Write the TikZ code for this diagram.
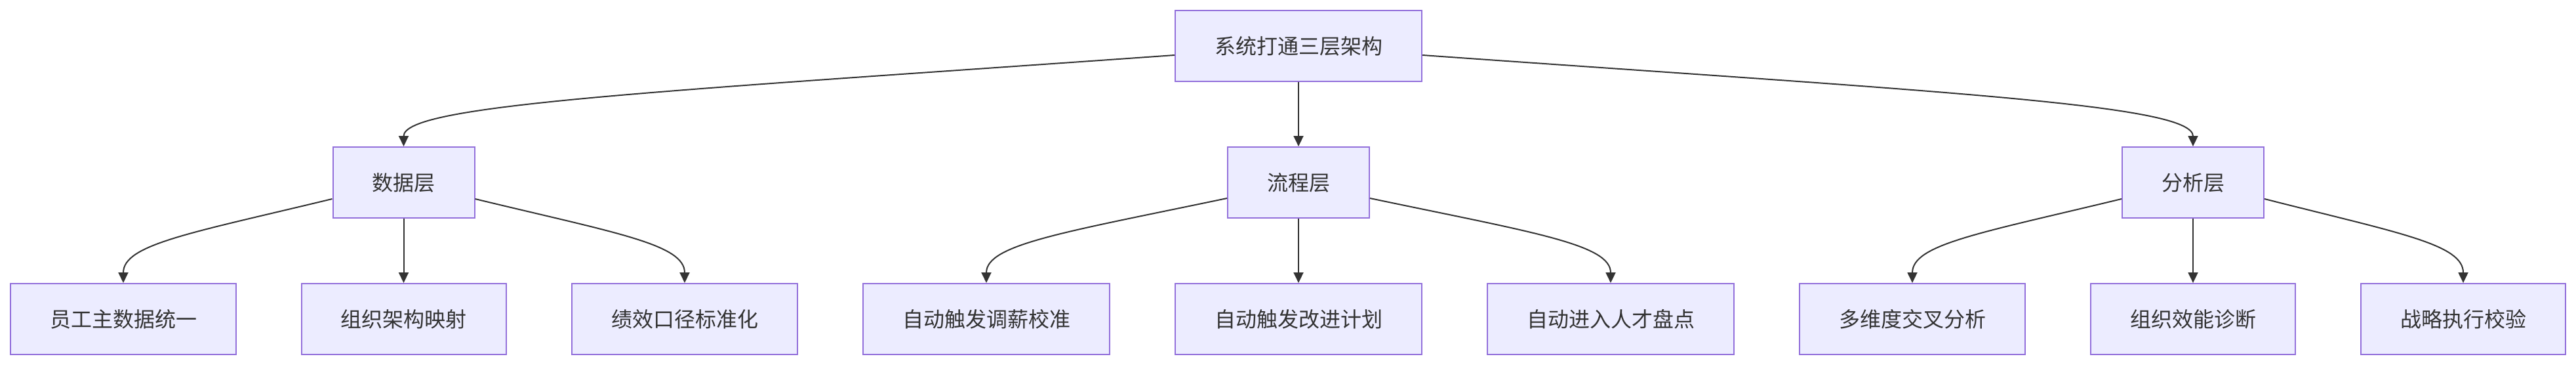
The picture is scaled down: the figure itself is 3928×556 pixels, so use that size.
\documentclass[tikz,border=0pt]{standalone}
\usepackage{fontspec}
\newfontfamily\cjk{Noto Sans CJK SC}
\usetikzlibrary{arrows.meta}
\definecolor{boxfill}{HTML}{ECECFF}
\definecolor{boxline}{HTML}{9370DB}
\definecolor{ink}{HTML}{333333}
\begin{document}
\begin{tikzpicture}[x=0.5pt,y=-0.5pt,
	box/.style={draw=boxline,fill=boxfill,line width=1pt,text=ink,inner xsep=30pt,inner ysep=0pt,minimum height=54pt,font=\cjk\fontsize{16pt}{19pt}\selectfont},
	edge/.style={draw=ink,line width=1pt,-{Triangle[length=8pt,width=7.5pt]}}]
	\useasboundingbox (0,0) rectangle (3928,556);
	\node[box] (s) at (1980,70) {系统打通三层架构};
	\node[box] (d) at (615.5,278) {数据层};
	\node[box] (p) at (1980,278) {流程层};
	\node[box] (a) at (3344,278) {分析层};
	\node[box] (d1) at (188,486) {员工主数据统一};
	\node[box] (d2) at (615.5,486) {组织架构映射};
	\node[box] (d3) at (1044,486) {绩效口径标准化};
	\node[box] (p1) at (1504,486) {自动触发调薪校准};
	\node[box] (p2) at (1980,486) {自动触发改进计划};
	\node[box] (p3) at (2456,486) {自动进入人才盘点};
	\node[box] (a1) at (2916,486) {多维度交叉分析};
	\node[box] (a2) at (3344,486) {组织效能诊断};
	\node[box] (a3) at (3756,486) {战略执行校验};
	\draw[edge] ([yshift=-7pt]s.west) .. controls +(-792,56) and +(0,-64) .. (d.north);
	\draw[edge] (s) -- (p);
	\draw[edge] ([yshift=-7pt]s.east) .. controls +(792,56) and +(0,-64) .. (a.north);
	\draw[edge] ([yshift=-12.5pt]d.west) .. controls +(-215,52) and +(0,-59) .. (d1.north);
	\draw[edge] (d) -- (d2);
	\draw[edge] ([yshift=-12.5pt]d.east) .. controls +(215,52) and +(0,-59) .. (d3.north);
	\draw[edge] ([yshift=-12pt]p.west) .. controls +(-248,52) and +(0,-59) .. (p1.north);
	\draw[edge] (p) -- (p2);
	\draw[edge] ([yshift=-12pt]p.east) .. controls +(248,52) and +(0,-59) .. (p3.north);
	\draw[edge] ([yshift=-12.5pt]a.west) .. controls +(-215,52) and +(0,-59) .. (a1.north);
	\draw[edge] (a) -- (a2);
	\draw[edge] ([yshift=-12.5pt]a.east) .. controls +(205,52) and +(0,-59) .. (a3.north);
\end{tikzpicture}
\end{document}
